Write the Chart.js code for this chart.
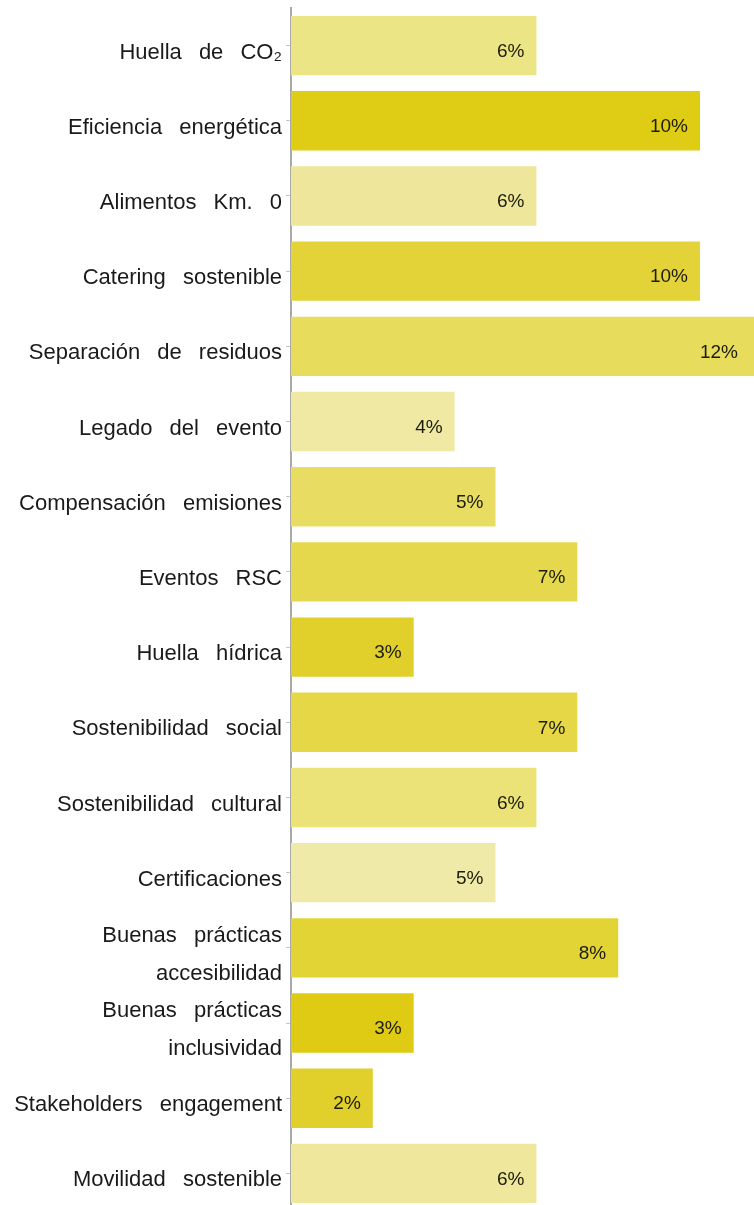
<!DOCTYPE html>
<html lang="es">

<head>
    <meta charset="UTF-8">
    <title>Prácticas de sostenibilidad</title>
    <script src="https://cdn.jsdelivr.net/npm/chart.js"></script>
    <style>
        html, body { margin: 0; padding: 0; background: #ffffff; overflow: hidden; }
        #caja { position: relative; width: 754px; height: 1212px; }
    </style>
</head>

<body>
    <div id="caja">
        <canvas id="graficoPracticas"></canvas>
    </div>
</body>

</html>
<script>

    // categorias (las de dos lineas van como array)
    var categorias = [
        'Huella de CO₂',
        'Eficiencia energética',
        'Alimentos Km. 0',
        'Catering sostenible',
        'Separación de residuos',
        'Legado del evento',
        'Compensación emisiones',
        'Eventos RSC',
        'Huella hídrica',
        'Sostenibilidad social',
        'Sostenibilidad cultural',
        'Certificaciones',
        ['Buenas prácticas', 'accesibilidad'],
        ['Buenas prácticas', 'inclusividad'],
        'Stakeholders engagement',
        'Movilidad sostenible'
    ]

    // porcentaje de cada practica
    var porcentajes = [6, 10, 6, 10, 12, 4, 5, 7, 3, 7, 6, 5, 8, 3, 2, 6]

    // un tono de amarillo por barra
    var colores = [
        '#ece585', '#dfcc14', '#eee79b', '#e3d338',
        '#e7dc5c', '#efe9a3', '#e8dc62', '#e5d84c',
        '#e1cf2b', '#e5d746', '#ebe278', '#f0eaa8',
        '#e3d436', '#dfcb14', '#e1cf2c', '#eee79c'
    ]

    var fuente = '"Liberation Sans", Arial, Helvetica, sans-serif'

    // espacio extra entre palabras, como en el original
    const espacioPalabras = {
        id: 'espacioPalabras',
        beforeDraw(chart) {
            chart.ctx.wordSpacing = '11px'
        }
    }

    // el % dentro de cada barra, pegado al final
    const etiquetasValor = {
        id: 'etiquetasValor',
        afterDatasetsDraw(chart) {
            const ctx = chart.ctx
            const area = chart.chartArea
            const meta = chart.getDatasetMeta(0)
            ctx.save()
            ctx.font = '19px ' + fuente
            ctx.fillStyle = '#1c1c0c'
            ctx.textAlign = 'right'
            ctx.textBaseline = 'middle'
            meta.data.forEach((barra, i) => {
                const x = Math.min(barra.x, area.right - 4) - 12
                ctx.fillText(porcentajes[i] + '%', x, barra.y + 6)
            })
            ctx.restore()
        }
    }

    const config = {
        type: 'bar',
        data: {
            labels: categorias,
            datasets: [{
                data: porcentajes,
                backgroundColor: colores,
                borderWidth: 0,
                barPercentage: 0.79,
                categoryPercentage: 1
            }]
        },
        options: {
            indexAxis: 'y',
            responsive: true,
            maintainAspectRatio: false,
            animation: false,
            layout: { padding: { top: 8, bottom: 1, left: 0, right: 0 } },
            plugins: {
                legend: { display: false },
                tooltip: { enabled: false }
            },
            scales: {
                x: {
                    display: false,
                    min: 0,
                    max: 11.32
                },
                y: {
                    afterFit: function (scale) {
                        scale.width = 291
                        // sin margen extra arriba/abajo por las etiquetas
                        scale.paddingTop = 0
                        scale.paddingBottom = 0
                    },
                    border: { color: '#a9a9a9', width: 2 },
                    grid: {
                        offset: false,
                        drawOnChartArea: false,
                        tickLength: 5,
                        color: '#c4c4c4'
                    },
                    ticks: {
                        autoSkip: false,
                        padding: 4,
                        labelOffset: 7,
                        color: '#1a1a1a',
                        font: { family: fuente, size: 22, lineHeight: 1.7 }
                    }
                }
            }
        },
        plugins: [espacioPalabras, etiquetasValor]
    }

    const grafico = new Chart(document.getElementById('graficoPracticas'), config)

</script>
